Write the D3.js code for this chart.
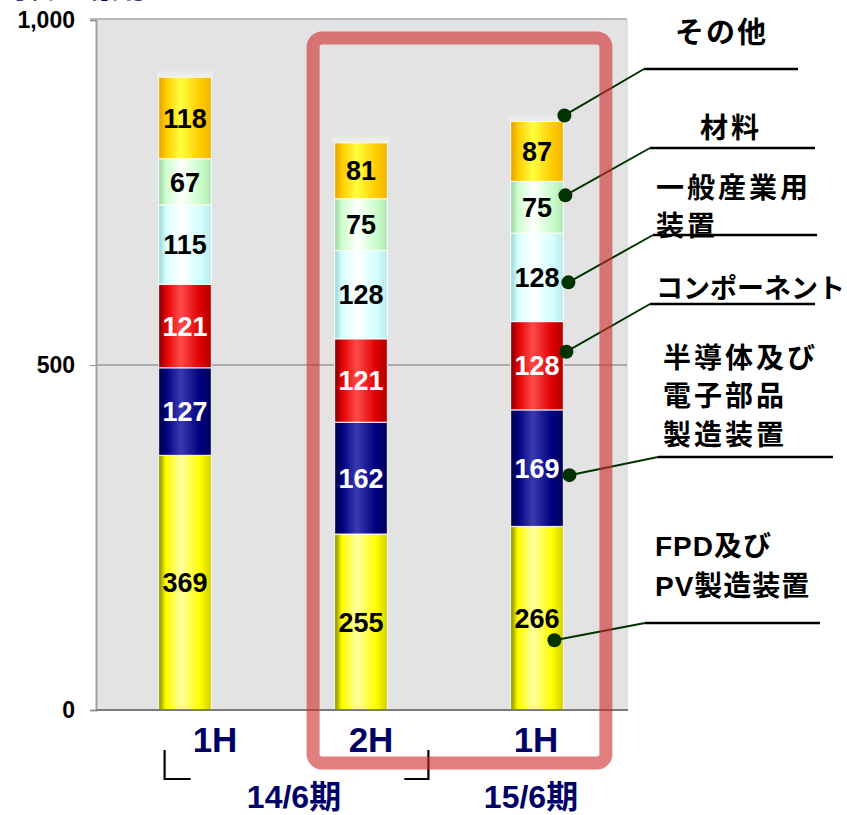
<!DOCTYPE html>
<html>
<head>
<meta charset="utf-8">
<script src="https://cdn.jsdelivr.net/npm/d3@7"></script>
<style>
  html, body { margin: 0; padding: 0; background: #ffffff; }
  svg { display: block; }
  text { font-family: "Liberation Sans", Arial, "Noto Sans CJK JP", sans-serif; font-weight: bold; }
</style>
</head>
<body>
<svg id="chart" width="847" height="815"></svg>
<script>
// ---- data -------------------------------------------------------------
const periods = ["14-1H", "14-2H", "15-1H"];
const periodLabels = ["1H", "2H", "1H"];
const fiscalLabels = ["14/6期", "15/6期"];
const segments = ["FPD", "SEMI", "COMP", "GEN", "MAT", "OTHER"];
const fpdValues   = [369, 255, 266];
const semiValues  = [127, 162, 169];
const compValues  = [121, 121, 128];
const genValues   = [115, 128, 128];
const matValues   = [67, 75, 75];
const otherValues = [118, 81, 87];
const yTicks = [0, 500, 1000];
const unitLabel = "【単位：億円】";
const segmentNames = {
  OTHER: ["その他"],
  MAT: ["材料"],
  GEN: ["一般産業用", "装置"],
  COMP: ["コンポーネント"],
  SEMI: ["半導体及び", "電子部品", "製造装置"],
  FPD: ["FPD及び", "PV製造装置"]
};

// ---- styles -----------------------------------------------------------
const colors = {
  FPD:   { edge: "#858500", base: "#ffff00", hi: "#ffffa0", right: "#d0d000", text: "#000" },
  SEMI:  { edge: "#00003a", base: "#000080", hi: "#3a3ab0", right: "#00005a", text: "#fff" },
  COMP:  { edge: "#7a0000", base: "#e00000", hi: "#ff4a4a", right: "#b00000", text: "#fff" },
  GEN:   { edge: "#9ad2d2", base: "#d6ffff", hi: "#ffffff", right: "#bde8e8", text: "#000" },
  MAT:   { edge: "#9fd29f", base: "#ccffcc", hi: "#ffffff", right: "#b5e6b5", text: "#000" },
  OTHER: { edge: "#e0a000", base: "#ffcc00", hi: "#ffff40", right: "#f0b400", text: "#000" }
};

const svg = d3.select("#chart");
const plot = { left: 96, top: 19, right: 627, bottom: 710 };

const x = d3.scaleBand().domain(periods).range([97, 625]).paddingInner(0.7).paddingOuter(0.35);
const y = d3.scaleLinear().domain([0, 1000]).range([plot.bottom, 20]);

// cylinder-like horizontal gradients
const defs = svg.append("defs");
segments.forEach(s => {
  const c = colors[s];
  const g = defs.append("linearGradient").attr("id", "g-" + s).attr("x1", 0).attr("x2", 1).attr("y1", 0).attr("y2", 0);
  [[0, c.edge], [0.14, c.base], [0.42, c.hi], [0.78, c.base], [1, c.right]].forEach(([o, col]) =>
    g.append("stop").attr("offset", o).attr("stop-color", col));
});
const glow = defs.append("linearGradient").attr("id", "glow").attr("x1", 0).attr("x2", 0).attr("y1", 0).attr("y2", 1);
glow.append("stop").attr("offset", 0).attr("stop-color", "#ffffff").attr("stop-opacity", 0);
glow.append("stop").attr("offset", 1).attr("stop-color", "#ffffff").attr("stop-opacity", 0.45);

// ---- stacked table ----------------------------------------------------
const table = periods.map((p, i) => ({
  period: p,
  FPD: fpdValues[i], SEMI: semiValues[i], COMP: compValues[i],
  GEN: genValues[i], MAT: matValues[i], OTHER: otherValues[i]
}));
const stacked = d3.stack().keys(segments)(table);

// ---- plot background & axes ------------------------------------------
svg.append("rect")
  .attr("x", plot.left).attr("y", plot.top)
  .attr("width", plot.right - plot.left).attr("height", plot.bottom - plot.top)
  .attr("fill", "#e3e3e3");
svg.append("line").attr("x1", 90).attr("x2", plot.right).attr("y1", plot.top).attr("y2", plot.top)
  .attr("stroke", "#a8a8a8").attr("stroke-width", 1.5);
svg.append("line").attr("x1", plot.right).attr("x2", plot.right).attr("y1", plot.top).attr("y2", plot.bottom)
  .attr("stroke", "#d0d0d0").attr("stroke-width", 1);
svg.append("line").attr("x1", plot.left).attr("x2", plot.right).attr("y1", y(500)).attr("y2", y(500))
  .attr("stroke", "#9a9a9a").attr("stroke-width", 1.5);

const yAxis = svg.append("g").attr("transform", `translate(${plot.left},0)`)
  .call(d3.axisLeft(y).tickValues(yTicks).tickSize(6).tickFormat(""));
yAxis.select(".domain").attr("stroke", "#a0a0a0").attr("stroke-width", 2);
yAxis.selectAll(".tick line").attr("stroke", "#909090");
svg.append("g").selectAll("text").data(yTicks).join("text")
  .attr("x", 75)
  .attr("y", d => y(d))
  .attr("dy", "0.36em")
  .attr("text-anchor", "end")
  .attr("fill", "#000")
  .attr("font-size", 23)
  .text(d3.format(","));

// ---- bars -------------------------------------------------------------
const layers = svg.append("g");
stacked.forEach(layer => {
  const key = layer.key;
  const g = layers.append("g");
  g.selectAll("rect").data(layer).join("rect")
    .attr("x", d => x(d.data.period))
    .attr("width", x.bandwidth())
    .attr("y", d => y(d[1]))
    .attr("height", d => y(d[0]) - y(d[1]))
    .attr("fill", `url(#g-${key})`)
    .attr("stroke", "#ffffff").attr("stroke-width", 1.2).attr("stroke-opacity", 0.8);
  g.selectAll("text").data(layer).join("text")
    .attr("x", d => x(d.data.period) + x.bandwidth() / 2)
    .attr("y", d => (y(d[0]) + y(d[1])) / 2)
    .attr("dy", "0.36em")
    .attr("text-anchor", "middle")
    .attr("fill", colors[key].text)
    .attr("font-size", 27)
    .text(d => d.data[key]);
});
// soft highlight above each cylinder top
const tops = stacked[stacked.length - 1];
svg.append("g").selectAll("rect").data(tops).join("rect")
  .attr("x", d => x(d.data.period) - 2)
  .attr("width", x.bandwidth() + 4)
  .attr("y", d => y(d[1]) - 9)
  .attr("height", 8)
  .attr("fill", "url(#glow)");

// baseline axis
svg.append("line").attr("x1", plot.left).attr("x2", plot.right + 1).attr("y1", plot.bottom).attr("y2", plot.bottom)
  .attr("stroke", "#7c7c7c").attr("stroke-width", 2);

// ---- category labels --------------------------------------------------
const labelShift = [30, 10, -1];
svg.append("g").selectAll("text").data(periods).join("text")
  .attr("x", (d, i) => x(d) + x.bandwidth() / 2 + labelShift[i])
  .attr("y", 752)
  .attr("text-anchor", "middle")
  .attr("fill", "#000066")
  .attr("font-size", 35)
  .text((d, i) => periodLabels[i]);

// fiscal-year groups with brackets
const fyCenters = [(x(periods[0]) + x(periods[1])) / 2 + x.bandwidth() / 2 + 21, x(periods[2]) + x.bandwidth() / 2 - 6];
svg.append("g").selectAll("text").data(fiscalLabels).join("text")
  .attr("x", (d, i) => fyCenters[i])
  .attr("y", 808)
  .attr("text-anchor", "middle")
  .attr("fill", "#000066")
  .attr("font-size", 32)
  .text(d => d);
const bl = x(periods[0]) + 6, br = x(periods[1]) + x.bandwidth() + 41;
svg.append("path").attr("d", `M${bl},750 V779 H${bl + 26}`).attr("fill", "none").attr("stroke", "#000").attr("stroke-width", 2.2);
svg.append("path").attr("d", `M${br},750 V779 H${br - 24}`).attr("fill", "none").attr("stroke", "#000").attr("stroke-width", 2.2);

// unit caption (mostly above the page edge)
svg.append("text").attr("x", 2).attr("y", -2).attr("fill", "#000066").attr("font-size", 22).text(unitLabel);

// ---- segment callouts -------------------------------------------------
const callouts = {
  OTHER: { lines: [43], tx: 675, ls: 2, size: 29, ry: 69, rx1: 644, rx2: 798, ddx: 1, ddy: -36 },
  MAT:   { lines: [138], tx: 700, ls: 3, size: 28, ry: 148, rx1: 650, rx2: 815, ddx: 2, ddy: -12 },
  GEN:   { lines: [198, 236], tx: 656, ls: 3, size: 28, ry: 235, rx1: 653, rx2: 817, ddx: 5, ddy: 5 },
  COMP:  { lines: [298], tx: 656, ls: 0, size: 27, ry: 304, rx1: 650, rx2: 815, ddx: 3, ddy: -14 },
  SEMI:  { lines: [368, 406, 445], tx: 663, ls: 3, size: 28, ry: 457, rx1: 658, rx2: 833, ddx: 6, ddy: 7 },
  FPD:   { lines: [556, 596], tx: 655, ls: 1, size: 28, ry: 623, rx1: 645, rx2: 820, ddx: -9, ddy: 22 }
};
const lastIdx = periods.length - 1;
const cg = svg.append("g");
stacked.forEach(layer => {
  const key = layer.key, c = callouts[key], d = layer[lastIdx];
  const dotX = x(d.data.period) + x.bandwidth() + c.ddx;
  const dotY = (y(d[0]) + y(d[1])) / 2 + c.ddy;
  const t = cg.append("text").attr("fill", "#000").attr("font-size", c.size).style("letter-spacing", c.ls + "px");
  segmentNames[key].forEach((line, i) => t.append("tspan").attr("x", c.tx).attr("y", c.lines[i]).text(line));
  cg.append("line").attr("x1", c.rx1).attr("x2", c.rx2).attr("y1", c.ry).attr("y2", c.ry)
    .attr("stroke", "#000").attr("stroke-width", 2.5);
  cg.append("line").attr("x1", c.rx1).attr("y1", c.ry).attr("x2", dotX).attr("y2", dotY)
    .attr("stroke", "#003300").attr("stroke-width", 2);
  cg.append("circle").attr("cx", dotX).attr("cy", dotY).attr("r", 7).attr("fill", "#003300");
});

// ---- highlight frame around the latest two halves ---------------------
svg.append("rect")
  .attr("x", x(periods[1]) - 21.5).attr("y", 38)
  .attr("width", (x(periods[2]) + x.bandwidth() + 42.5) - (x(periods[1]) - 21.5))
  .attr("height", 725)
  .attr("rx", 9)
  .attr("fill", "none")
  .attr("stroke", "#cd2a2a").attr("stroke-opacity", 0.6).attr("stroke-width", 13);
</script>
</body>
</html>
